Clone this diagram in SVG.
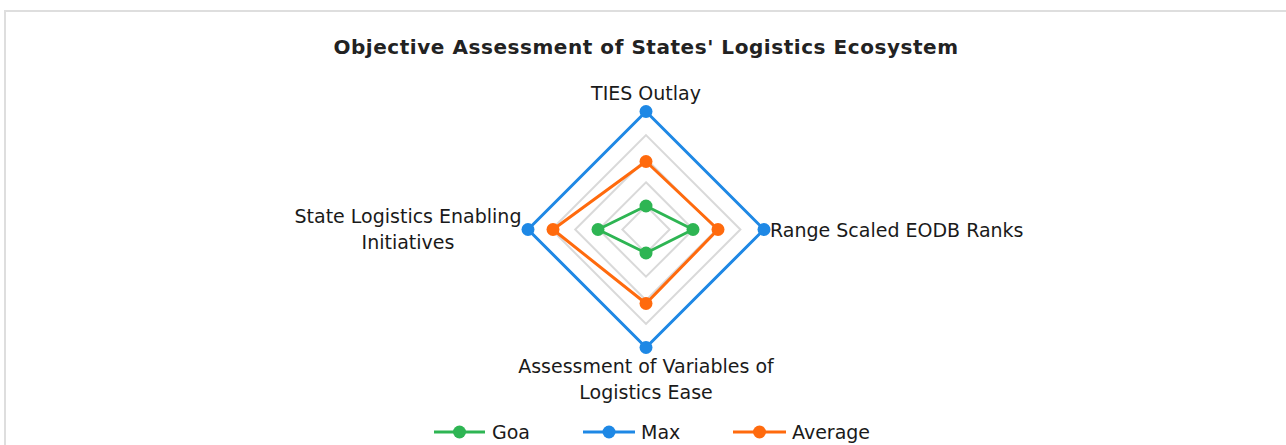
<svg xmlns="http://www.w3.org/2000/svg" width="1286" height="445" viewBox="0 0 1286 445">
<style>
text{font-family:"DejaVu Sans","Liberation Sans",sans-serif;fill:#1a1a1a;font-size:19px}
.title{font-size:20px;font-weight:bold;letter-spacing:0.55px;fill:#222222}
.grid{fill:none;stroke:#d9d9d9;stroke-width:2}
.s{fill:none;stroke-width:3;stroke-linejoin:round}
.goa{stroke:#2eb553}.goaf{fill:#2eb553}
.max{stroke:#1e88e5}.maxf{fill:#1e88e5}
.avg{stroke:#ff6a0d}.avgf{fill:#ff6a0d}
</style>
<rect x="0" y="0" width="1286" height="445" fill="#ffffff"/>
<rect x="5" y="11" width="1290" height="450" fill="#ffffff" stroke="#dedede" stroke-width="2"/>
<text class="title" x="646" y="54" text-anchor="middle">Objective Assessment of States' Logistics Ecosystem</text>
<g id="grid">
<polygon class="grid" points="646,205.9 669.6,229.5 646,253.1 622.4,229.5"/>
<polygon class="grid" points="646,182.3 693.2,229.5 646,276.7 598.8,229.5"/>
<polygon class="grid" points="646,158.7 716.8,229.5 646,300.3 575.2,229.5"/>
<polygon class="grid" points="646,135.1 740.4,229.5 646,323.9 551.6,229.5"/>
<polygon class="grid" points="646,111.5 764,229.5 646,347.5 528,229.5"/>
</g>
<g id="axis-labels">
<text x="646" y="100" text-anchor="middle">TIES Outlay</text>
<text x="770" y="237">Range Scaled EODB Ranks</text>
<text x="408" y="223" text-anchor="middle">State Logistics Enabling</text>
<text x="408" y="249" text-anchor="middle">Initiatives</text>
<text x="646" y="373" text-anchor="middle">Assessment of Variables of</text>
<text x="646" y="399" text-anchor="middle">Logistics Ease</text>
</g>
<g id="connectors">
<polygon class="s max" points="646,111.5 764,229.5 646,347.5 528,229.5"/>
<polygon class="s avg" points="646,161.5 718,229.5 646,303.5 553,229.5"/>
<polygon class="s goa" points="646,206 693,229.5 646,253 598,229.5"/>
</g>
<g id="series-max" class="maxf">
<circle cx="646" cy="111.5" r="6.5"/><circle cx="764" cy="229.5" r="6.5"/><circle cx="646" cy="347.5" r="6.5"/><circle cx="528" cy="229.5" r="6.5"/>
</g>
<g id="series-average" class="avgf">
<circle cx="646" cy="161.5" r="6.5"/><circle cx="718" cy="229.5" r="6.5"/><circle cx="646" cy="303.5" r="6.5"/><circle cx="553" cy="229.5" r="6.5"/>
</g>
<g id="series-goa" class="goaf">
<circle cx="646" cy="206" r="6.5"/><circle cx="693" cy="229.5" r="6.5"/><circle cx="646" cy="253" r="6.5"/><circle cx="598" cy="229.5" r="6.5"/>
</g>
<g id="legend">
<line class="s goa" x1="434" y1="432" x2="485" y2="432"/><circle class="goaf" cx="459.5" cy="432" r="6.5"/>
<text x="492" y="439">Goa</text>
<line class="s max" x1="583" y1="432" x2="635" y2="432"/><circle class="maxf" cx="609" cy="432" r="6.5"/>
<text x="641" y="439">Max</text>
<line class="s avg" x1="733" y1="432" x2="786" y2="432"/><circle class="avgf" cx="759.5" cy="432" r="6.5"/>
<text x="792" y="439">Average</text>
</g>
</svg>
